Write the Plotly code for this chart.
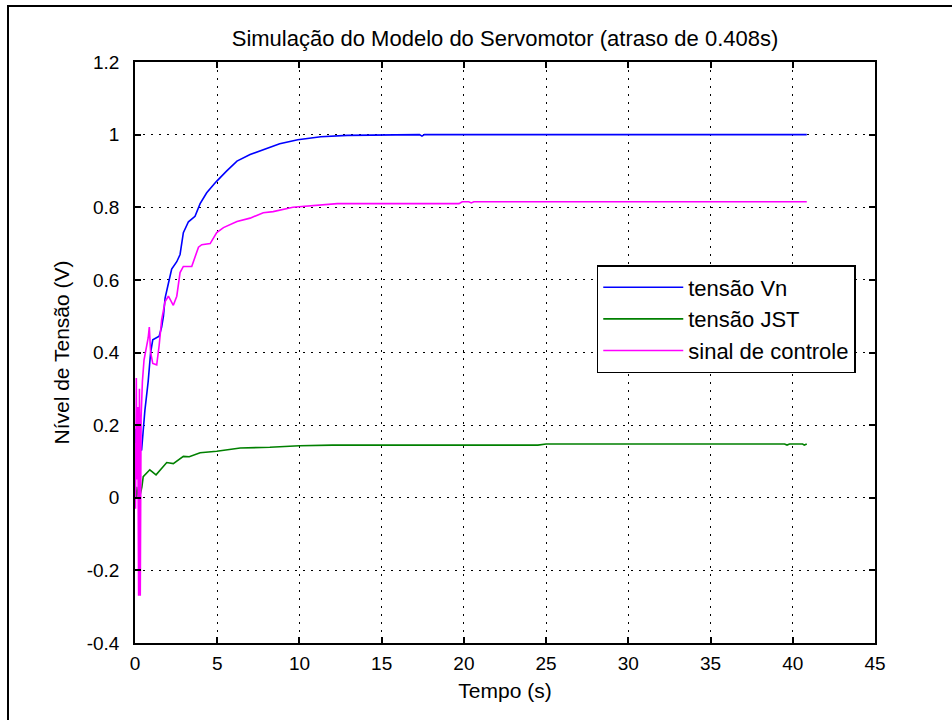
import plotly.graph_objects as go

# ---- data ----
t_vn = [0, 0.03, 0.08, 0.15, 0.25, 0.4, 0.6, 0.8, 0.95, 1.08, 1.47, 1.62, 1.73, 1.83,
        2.03, 2.23, 2.54, 2.74, 2.94, 3.25, 3.65, 3.96, 4.36, 4.93, 5.58, 6.2, 7.0,
        7.7, 8.8, 9.9, 11.3, 12.9, 16.3, 16.5, 17.3, 17.45, 17.6, 40.85]
v_vn = [0.15, 0.19, 0.13, 0.17, 0.14, 0.13, 0.24, 0.32, 0.40, 0.435, 0.445, 0.47, 0.50, 0.55,
        0.59, 0.63, 0.65, 0.67, 0.73, 0.76, 0.775, 0.81, 0.84, 0.87, 0.90, 0.927, 0.945,
        0.957, 0.975, 0.986, 0.994, 0.998, 0.999, 1.0, 1.0, 0.996, 1.0, 1.0]

t_jst = [0, 0.05, 0.1, 0.2, 0.3, 0.42, 0.5, 0.9, 1.28, 1.62, 1.93, 2.33, 2.94, 3.3,
         3.96, 4.97, 6.4, 8.2, 10, 12, 24.5, 25, 39.5, 39.65, 39.8, 40.6, 40.7, 40.85]
v_jst = [0.0, 0.03, 0.0, 0.03, 0.005, 0.03, 0.058, 0.077, 0.063, 0.082, 0.097, 0.094, 0.114, 0.113,
         0.124, 0.128, 0.137, 0.139, 0.143, 0.145, 0.145, 0.148, 0.148, 0.145, 0.148, 0.148, 0.145, 0.148]

t_ctl = [0, 0.03, 0.08, 0.12, 0.17, 0.22, 0.27, 0.32, 0.37, 0.45, 0.55, 0.8, 0.87, 0.95,
         1.08, 1.32, 1.47, 1.62, 1.83, 2.03, 2.33, 2.54, 2.74, 2.94, 3.45, 3.65, 3.86,
         4.06, 4.57, 4.97, 5.38, 6.2, 7.0, 7.8, 8.4, 9.6, 10.7, 12.3, 19.7, 19.9, 20.3,
         20.45, 20.6, 40.85]
v_ctl = [0.15, -0.03, 0.33, 0.05, 0.25, -0.27, 0.30, -0.27, 0.22, 0.32, 0.38, 0.44, 0.47, 0.40,
         0.37, 0.366, 0.42, 0.49, 0.54, 0.555, 0.53, 0.555, 0.62, 0.637, 0.637, 0.665, 0.69,
         0.697, 0.70, 0.73, 0.744, 0.761, 0.77, 0.785, 0.788, 0.80, 0.804, 0.81, 0.81, 0.815, 0.815,
         0.812, 0.815, 0.815]

series_names = ["tensão Vn", "tensão JST", "sinal de controle"]
series_colors = ["rgb(0,0,255)", "rgb(0,128,0)", "rgb(255,0,255)"]

x_ticks = [0, 5, 10, 15, 20, 25, 30, 35, 40, 45]
y_ticks = [-0.4, -0.2, 0, 0.2, 0.4, 0.6, 0.8, 1, 1.2]
y_tick_text = ["-0.4", "-0.2", "0", "0.2", "0.4", "0.6", "0.8", "1", "1.2"]

FONT = "Liberation Sans, Arial, sans-serif"

fig = go.Figure()
for tx, vy, name, col in zip([t_vn, t_jst, t_ctl], [v_vn, v_jst, v_ctl], series_names, series_colors):
    fig.add_trace(go.Scatter(x=tx, y=vy, mode="lines", name=name,
                             line=dict(color=col, width=1.6, shape="linear")))

axis_common = dict(
    showline=True, linecolor="black", linewidth=1.5, mirror="allticks",
    ticks="inside", ticklen=6, tickcolor="black", tickwidth=1.5,
    showgrid=True, gridcolor="black", gridwidth=1, griddash="1.5px,6.5px",
    zeroline=False, tickfont=dict(family=FONT, size=19, color="black"),
)

fig.update_xaxes(range=[0, 45], tickvals=x_ticks, ticktext=[str(v) for v in x_ticks],
                 ticklabelstandoff=2,
                 title=dict(text="Tempo (s)", font=dict(family=FONT, size=21, color="black"), standoff=11),
                 **axis_common)
fig.update_yaxes(range=[-0.4, 1.2], tickvals=y_ticks, ticktext=y_tick_text,
                 ticklabelstandoff=10,
                 title=dict(text="Nível de Tensão (V)", font=dict(family=FONT, size=21, color="black"), standoff=11),
                 **axis_common)

fig.update_layout(
    width=952, height=720,
    margin=dict(l=135, r=77, t=62, b=77),
    paper_bgcolor="white", plot_bgcolor="white",
    title=dict(text="Simulação do Modelo do Servomotor (atraso de 0.408s)",
               font=dict(family=FONT, size=22, color="black"),
               x=0.5305, xanchor="center", y=1 - 38 / 720, yanchor="middle"),
    legend=dict(x=0.624, y=0.6506, xanchor="left", yanchor="top",
                bgcolor="white", bordercolor="black", borderwidth=1.5,
                font=dict(family=FONT, size=22, color="black"),
                itemwidth=80, tracegroupgap=0),
    showlegend=True,
    shapes=[dict(type="rect", xref="paper", yref="paper",
                 x0=(8 - 135) / 740, x1=(962 - 135) / 740,
                 y0=(643 - 730) / 581, y1=(643 - 6) / 581,
                 line=dict(color="black", width=2), fillcolor="rgba(0,0,0,0)", layer="below")],
)

fig.write_html("out.html")
